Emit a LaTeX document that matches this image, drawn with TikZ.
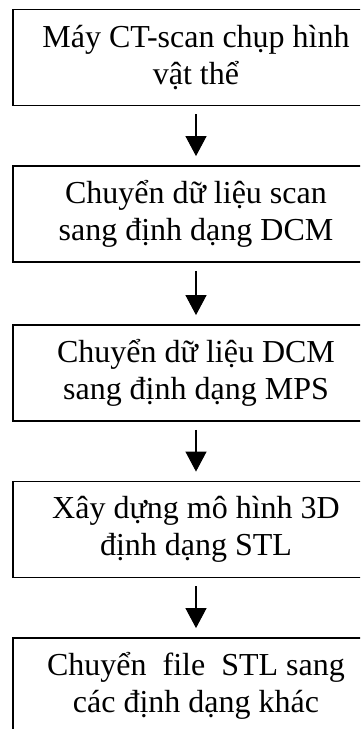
\documentclass[tikz,border=0pt]{standalone}
\usepackage{fontspec}
\setmainfont{Liberation Serif}
\usetikzlibrary{arrows.meta}
\tikzset{
  stage/.style={draw,line width=1.8pt,minimum width=366pt,minimum height=96pt,inner sep=0pt,
                align=center,font=\fontsize{32}{37}\selectfont},
  flow/.style={-{Triangle[length=20pt,width=21pt]},line width=1.1pt,shorten <=8pt,shorten >=9pt}
}

\begin{document}
\begin{tikzpicture}[x=1pt,y=-1pt]
  \useasboundingbox (0,0) rectangle (360,729);
  \clip (0,0) rectangle (360,729);
  % process stages, top to bottom
  \node[stage] (scan)  at (196,57.5) {Máy CT-scan chụp hình\\vật thể};
  \node[stage] (dcm)   at (196,214)  {Chuyển dữ liệu scan\\sang định dạng DCM};
  \node[stage] (mps)   at (196,373)  {Chuyển dữ liệu DCM\\sang định dạng MPS};
  \node[stage] (stl)   at (196,529.5){Xây dựng mô hình 3D\\định dạng STL};
  \node[stage] (other) at (196,686)  {Chuyển~ file~ STL sang\\các định dạng khác};
  \foreach \a/\b in {scan/dcm, dcm/mps, mps/stl, stl/other}
    \draw[flow] (\a) -- (\b);
\end{tikzpicture}
\end{document}
